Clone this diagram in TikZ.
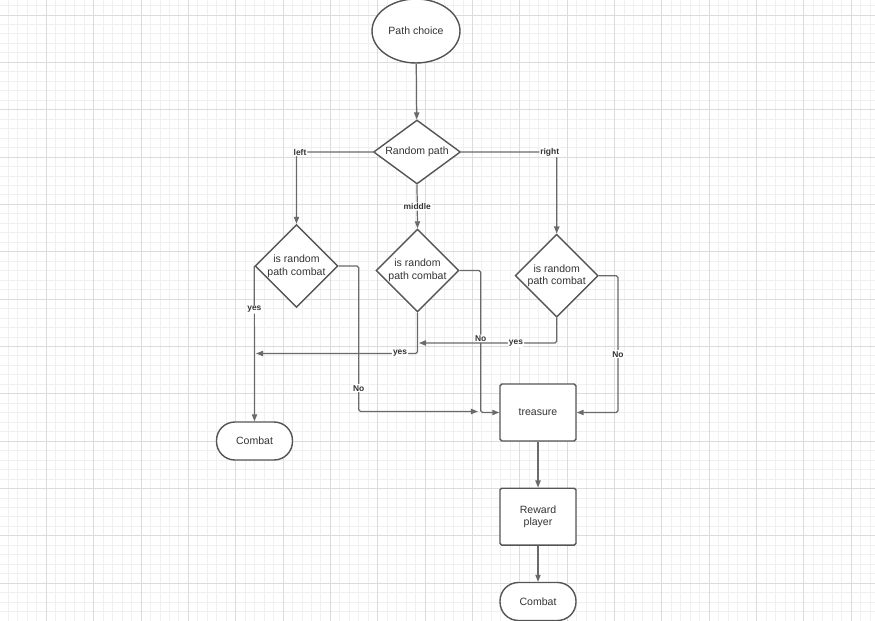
\documentclass[tikz,border=0pt]{standalone}
\usepackage{fontspec}
\setmainfont{Liberation Sans}
\usetikzlibrary{shapes.geometric,arrows.meta}
\definecolor{gridminor}{HTML}{F0F0F0}
\definecolor{gridmajor}{HTML}{DCDCDC}
\definecolor{shapeline}{HTML}{555555}
\definecolor{connline}{HTML}{6A6A6A}
\definecolor{txt}{HTML}{333333}

\begin{document}
\begin{tikzpicture}[
    x=0.02cm, y=-0.02cm,
    minorline/.style={draw=gridminor, line width=0.5pt},
    majorline/.style={draw=gridmajor, line width=0.55pt},
    base/.style={draw=shapeline, fill=white, line width=0.8pt, align=center, text=txt, font=\fontsize{6}{7.2}\selectfont},
    startnode/.style={base, ellipse, inner sep=0pt, minimum width=1.76cm, minimum height=1.28cm},
    decision/.style={base, diamond, inner sep=0pt, minimum width=1.66cm, minimum height=1.66cm},
    box/.style={base, rectangle, rounded corners=1pt, minimum width=1.52cm, minimum height=1.14cm},
    terminal/.style={base, rectangle, rounded corners=10.5pt, minimum width=1.52cm, minimum height=0.76cm},
    arrow/.style={-{Triangle[length=4pt,width=3pt]}, draw=connline, line width=0.7pt, rounded corners=1pt},
    lbl/.style={fill=white, inner sep=0.6pt, text=txt, font=\bfseries\fontsize{4.8}{5.5}\selectfont}
]
\useasboundingbox (0,0) rectangle (875,621);
\fill[white] (0,0) rectangle (875,621);

% Grid
\foreach \i in {0,...,93} \draw[minorline] ({-1.05+9.47*\i},0) -- ({-1.05+9.47*\i},621);
\foreach \i in {0,...,66} \draw[minorline] (0,{-3.94+9.47*\i}) -- (875,{-3.94+9.47*\i});
\foreach \i in {0,...,18} \draw[majorline] ({-1.05+47.35*\i},0) -- ({-1.05+47.35*\i},621);
\foreach \i in {0,...,13} \draw[majorline] (0,{15+47.35*\i}) -- (875,{15+47.35*\i});

% Top
\node[startnode] (choice) at (416,31) {Path choice};
\node[decision, aspect=1.4, minimum width=1.74cm, minimum height=1.28cm] (random) at (417,152) {Random path};

% Decisions
\node[decision] (leftq) at (296.5,266) {is random\\path combat};
\node[decision] (midq) at (417.5,270.5) {is random\\path combat};
\node[decision] (rightq) at (556.7,275.7) {is random\\path combat};

% Outcomes
\node[terminal] (combatL) at (254.5,441) {Combat};
\node[box] (treasure) at (538,412.5) {treasure};
\node[box] (reward) at (538,516.7) {Reward\\player};
\node[terminal] (combatR) at (538,601.5) {Combat};

% Free ends
\coordinate (noL) at (478,411.5);
\coordinate (yesL) at (256,353.5);
\coordinate (yesM) at (419,343);

% Arrows
\draw[arrow] (choice) -- (random);
\draw[arrow] (random.west) -| node[lbl, pos=0.5, xshift=0.07cm] {left} (leftq.north);
\draw[arrow] (random.south) -- node[lbl] {middle} (midq.north);
\draw[arrow] (random.east) -| node[lbl, pos=0.5, xshift=-0.14cm] {right} (rightq.north);
\draw[arrow] (leftq.west) -- node[lbl, pos=0.28] {yes} (combatL.north);
\draw[arrow] (leftq.east) -- ++(20,0) |- node[lbl, pos=0.42] {No} (noL);
\draw[arrow] (midq.south) |- node[lbl, pos=0.554] {yes} (yesL);
\draw[arrow] (midq.east) -- ++(21,0) |- node[lbl, pos=0.24] {No} (treasure.west);
\draw[arrow] (rightq.south) |- node[lbl, pos=0.648] {yes} (yesM);
\draw[arrow] (rightq.east) -- ++(19,0) |- node[lbl, pos=0.287] {No} (treasure.east);
\draw[arrow] (treasure) -- (reward);
\draw[arrow] (reward) -- (combatR);
\end{tikzpicture}
\end{document}
